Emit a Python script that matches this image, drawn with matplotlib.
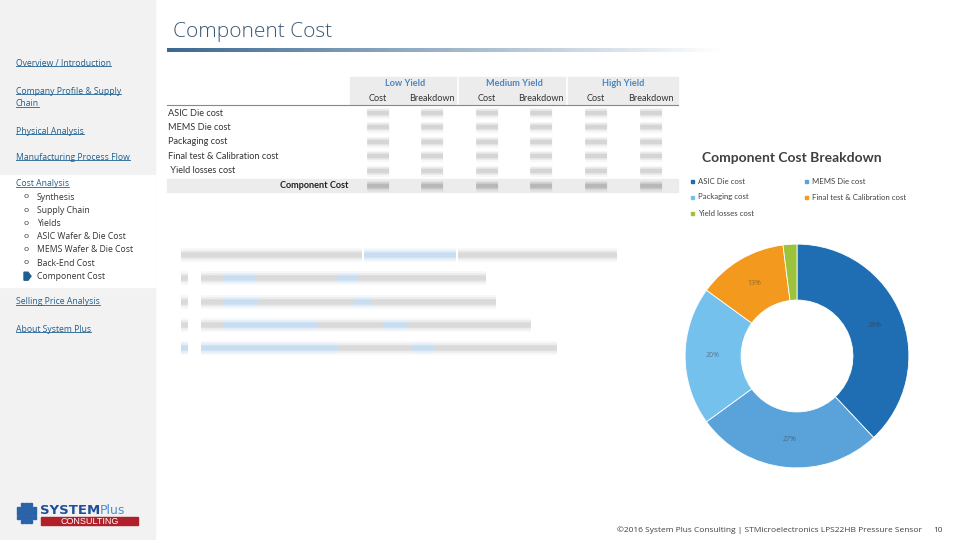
import matplotlib.pyplot as plt
import numpy as np
from matplotlib.patches import Rectangle, Polygon

plt.rcParams["font.family"] = ["Open Sans", "DejaVu Sans"]

# donut data
categories = ["ASIC Die cost", "MEMS Die cost", "Packaging cost",
              "Final test & Calibration cost", "Yield losses cost"]
shares = [38, 27, 20, 13, 2]
slice_colors = ["#1f6db3", "#5aa2da", "#74c1ee", "#f39a1e", "#9cc33b"]

# sidebar menu
menu_links = [("Overview / Introduction", 63), ("Company Profile & Supply", 91),
              ("Chain", 104), ("Physical Analysis", 131),
              ("Manufacturing Process Flow", 157), ("Cost Analysis", 184),
              ("Selling Price Analysis", 302), ("About System Plus", 329)]
sub_items = ["Synthesis", "Supply Chain", "Yields", "ASIC Wafer & Die Cost",
             "MEMS Wafer & Die Cost", "Back-End Cost", "Component Cost"]

# table text
yield_groups = ["Low Yield", "Medium Yield", "High Yield"]
sub_headers = ["Cost", "Breakdown"]
row_labels = ["ASIC Die cost", "MEMS Die cost", "Packaging cost",
              "Final test & Calibration cost", " Yield losses cost"]

footer = "©2016 System Plus Consulting | STMicroelectronics LPS22HB Pressure Sensor"
page_no = "10"

fig = plt.figure(figsize=(9.6, 5.4), dpi=100)
ax = fig.add_axes([0, 0, 1, 1])
ax.set_xlim(0, 960)
ax.set_ylim(540, 0)
ax.axis("off")

# ---- sidebar
ax.add_patch(Rectangle((0, 0), 155, 540, color="#f2f2f2", zorder=0))
ax.add_patch(Rectangle((0, 175), 155, 112, color="white", zorder=0))
link_color = "#1f5f8f"
for label, y in menu_links:
    ax.text(16, y, label, fontsize=6.2, color=link_color, va="center")
# underlines, measured from rendered text
fig.canvas.draw()
renderer = fig.canvas.get_renderer()
inv = ax.transData.inverted()
for t in list(ax.texts):
    bb = t.get_window_extent(renderer)
    (x0, y0), (x1, y1) = inv.transform([(bb.x0, bb.y0), (bb.x1, bb.y1)])
    ax.plot([x0, x1], [y0 - 1.5, y0 - 1.5], color=link_color, lw=0.6)

for i, item in enumerate(sub_items):
    y = 197 + i * 13.2
    if i == len(sub_items) - 1:
        ax.add_patch(Polygon([(24, y - 4), (28, y - 4), (31, y), (28, y + 4), (24, y + 4)],
                             color="#1f5f8f"))
    else:
        ax.text(23, y, "o", fontsize=6, color="#333333", va="center")
    ax.text(37, y, item, fontsize=6.2, color="#333333", va="center")

# ---- title and gradient rule
ax.text(173, 32, "Component Cost", fontsize=15, color="#3d5a73",
        fontweight="light", va="center")
grad = np.linspace(0, 1, 256)
start = np.array([0.23, 0.41, 0.57])
rgb = start[None, :] * (1 - grad[:, None]) + np.ones(3)[None, :] * grad[:, None]
ax.imshow(rgb[None, :, :], extent=(167, 720, 52, 48), aspect="auto", zorder=1)

# ---- table
tfont = ["Lato", "DejaVu Sans"]
ax.add_patch(Rectangle((350, 77), 328, 27, color="#ececec", zorder=0))
for gx in [458, 567]:
    ax.plot([gx, gx], [77, 104], color="white", lw=1.2)
ax.plot([167, 678], [104.5, 104.5], color="#6f8fa8", lw=0.8)
col_x = [378, 432, 487, 541, 596, 651]
for g, name in enumerate(yield_groups):
    ax.text((col_x[2 * g] + col_x[2 * g + 1]) / 2, 84, name, fontsize=6.6,
            color="#4a86c0", fontweight="bold", ha="center", va="center", family=tfont)
    for k, sh in enumerate(sub_headers):
        ax.text(col_x[2 * g + k], 98.5, sh, fontsize=6.6, color="#333333",
                ha="center", va="center", family=tfont)


def blur_line(x0, x1, y, color, scale=1.0):
    for lw, a in [(10, 0.08), (7, 0.14), (4, 0.25)]:
        ax.plot([x0, x1], [y, y], color=color, lw=lw * scale, alpha=a,
                solid_capstyle="butt")


for r, lab in enumerate(row_labels):
    y = 113 + r * 14.4
    ax.text(168, y, lab, fontsize=6.6, color="#333333", va="center", family=tfont)
    for cx in col_x:
        blur_line(cx - 11, cx + 11, y, "#9a9a9a", 0.8)
ax.add_patch(Rectangle((167, 179), 511, 13, color="#ececec", zorder=0))
ax.text(348, 186, "Component Cost", fontsize=6.6, color="#222222", fontweight="bold",
        ha="right", va="center", family=tfont)
for cx in col_x:
    blur_line(cx - 11, cx + 11, 186, "#707070", 0.8)

# ---- blurred paragraph (gray = text, blue = highlighted words)
G, B = "#a8a8a8", "#7fb0e0"
para = [
    (255, [(181, 362, G), (364, 456, B), (458, 617, G)]),
    (278, [(181, 188, G), (201, 223, G), (223, 255, B), (255, 337, G),
           (337, 358, B), (358, 486, G)]),
    (302, [(181, 188, G), (201, 223, G), (223, 257, B), (257, 353, G),
           (353, 371, B), (371, 496, G)]),
    (325, [(181, 188, G), (201, 223, G), (223, 317, B), (317, 383, G),
           (383, 407, B), (407, 531, G)]),
    (348, [(181, 188, B), (201, 337, B), (337, 412, G), (412, 433, B),
           (433, 557, G)]),
]
for y, segs in para:
    for x0, x1, col in segs:
        blur_line(x0, x1, y, col)

# ---- donut chart
cx, cy, rad = 797, 356, 113
pax = fig.add_axes([(cx - rad) / 960, 1 - (cy + rad) / 540, 2 * rad / 960, 2 * rad / 540])
wedges, _ = pax.pie(shares, colors=slice_colors, startangle=90, counterclock=False,
                    wedgeprops=dict(width=0.5, edgecolor="white", linewidth=0.6))
pax.set_aspect("auto")
pax.set_xlim(-1.01, 1.01)
pax.set_ylim(-1.01, 1.01)
for w, s in zip(wedges, shares):
    if s < 5:
        continue
    ang = np.deg2rad((w.theta1 + w.theta2) / 2)
    pax.text(0.75 * np.cos(ang), 0.75 * np.sin(ang), f"{s}%", fontsize=5,
             color="#333333", alpha=0.5, ha="center", va="center")

ax.text(702, 158, "Component Cost Breakdown", fontsize=10, fontweight="bold",
        color="#404040", va="center", family=tfont)
leg_pos = [(692, 181), (806, 181), (692, 197), (806, 197), (692, 213)]
for (lx, ly), lab, col in zip(leg_pos, categories, slice_colors):
    ax.add_patch(Rectangle((lx - 1.5, ly - 1.5), 3, 3, color=col))
    ax.text(lx + 6, ly, lab, fontsize=5.6, color="#404040", va="center", family=tfont)

# ---- logo
for i in range(5):
    for j in range(5):
        if (i in (0, 4)) and (j in (0, 4)):
            continue
        ax.add_patch(Rectangle((17 + i * 4, 503 + j * 4.2), 3.2, 3.4, color="#2a63a8"))
ax.text(40, 510, "SYSTEM", fontsize=9.5, fontweight="bold", color="#1f4f9a",
        va="center", family=["Liberation Sans Narrow", "DejaVu Sans"])
ax.text(100, 510, "Plus", fontsize=9, color="#4d8fd0", va="center",
        family=["Liberation Sans Narrow", "DejaVu Sans"])
ax.add_patch(Rectangle((41, 517), 97, 8, color="#b0202a"))
ax.text(89.5, 521, "CONSULTING", fontsize=6.5, color="white", ha="center",
        va="center", family=["Liberation Sans", "DejaVu Sans"])

# ---- footer
ax.text(922, 530, footer, fontsize=6, color="#404040", ha="right", va="center")
ax.text(938, 531, page_no, fontsize=6, color="#404040", ha="center", va="center")

fig.savefig("out.png", dpi=100)
